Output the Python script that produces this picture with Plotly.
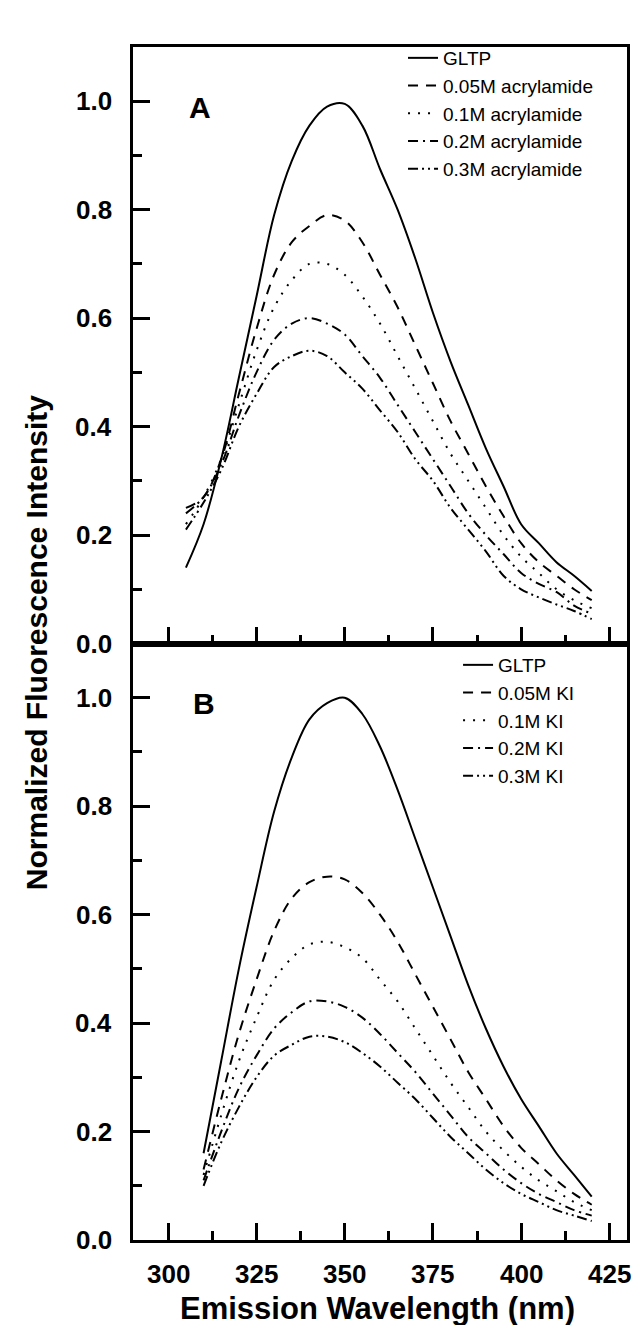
import plotly.graph_objects as go
from plotly.subplots import make_subplots

# ---------------- data ----------------
wl_a = [305, 310, 315, 320, 325, 330, 335, 340, 345, 350, 355, 360,
        365, 370, 375, 380, 385, 390, 395, 400, 405, 410, 415, 420]
gltp_a = [0.14, 0.22, 0.34, 0.49, 0.64, 0.79, 0.89, 0.955, 0.99, 0.995, 0.955, 0.875,
          0.80, 0.71, 0.61, 0.52, 0.44, 0.36, 0.29, 0.22, 0.185, 0.15, 0.125, 0.097]
acr_005 = [0.25, 0.27, 0.34, 0.46, 0.58, 0.68, 0.74, 0.77, 0.79, 0.78, 0.74, 0.68,
           0.62, 0.55, 0.48, 0.41, 0.35, 0.29, 0.235, 0.185, 0.15, 0.125, 0.10, 0.08]
acr_01 = [0.22, 0.27, 0.34, 0.44, 0.54, 0.62, 0.67, 0.70, 0.70, 0.68, 0.64, 0.59,
          0.53, 0.47, 0.41, 0.35, 0.30, 0.25, 0.20, 0.16, 0.13, 0.10, 0.08, 0.065]
acr_02 = [0.24, 0.27, 0.33, 0.42, 0.50, 0.56, 0.59, 0.60, 0.59, 0.57, 0.53, 0.49,
          0.44, 0.39, 0.34, 0.29, 0.24, 0.20, 0.165, 0.13, 0.11, 0.095, 0.07, 0.055]
acr_03 = [0.21, 0.26, 0.32, 0.40, 0.46, 0.51, 0.53, 0.54, 0.53, 0.50, 0.47, 0.43,
          0.39, 0.34, 0.30, 0.25, 0.21, 0.17, 0.125, 0.10, 0.085, 0.072, 0.06, 0.045]

wl_b = [310, 315, 320, 325, 330, 335, 340, 345, 350, 355, 360, 365,
        370, 375, 380, 385, 390, 395, 400, 405, 410, 415, 420]
gltp_b = [0.16, 0.33, 0.50, 0.65, 0.79, 0.89, 0.96, 0.99, 1.0, 0.97, 0.91, 0.83,
          0.74, 0.65, 0.56, 0.47, 0.39, 0.32, 0.26, 0.21, 0.16, 0.12, 0.08]
ki_005 = [0.13, 0.26, 0.38, 0.48, 0.57, 0.63, 0.66, 0.67, 0.665, 0.64, 0.60, 0.55,
          0.49, 0.43, 0.37, 0.31, 0.26, 0.21, 0.17, 0.14, 0.11, 0.085, 0.065]
ki_01 = [0.12, 0.23, 0.33, 0.41, 0.48, 0.52, 0.545, 0.55, 0.54, 0.52, 0.48, 0.44,
         0.39, 0.34, 0.29, 0.245, 0.20, 0.165, 0.135, 0.11, 0.09, 0.07, 0.055]
ki_02 = [0.11, 0.20, 0.28, 0.34, 0.39, 0.42, 0.44, 0.44, 0.43, 0.41, 0.38, 0.345,
         0.31, 0.27, 0.23, 0.19, 0.16, 0.13, 0.105, 0.085, 0.07, 0.055, 0.045]
ki_03 = [0.10, 0.18, 0.245, 0.30, 0.34, 0.36, 0.375, 0.375, 0.365, 0.345, 0.32, 0.29,
         0.26, 0.225, 0.19, 0.16, 0.13, 0.105, 0.085, 0.07, 0.055, 0.045, 0.035]

names_a = ["GLTP", "0.05M acrylamide", "0.1M acrylamide", "0.2M acrylamide", "0.3M acrylamide"]
names_b = ["GLTP", "0.05M KI", "0.1M KI", "0.2M KI", "0.3M KI"]

# tick labels
x_ticks = [300, 325, 350, 375, 400, 425]
y_ticks = [0.0, 0.2, 0.4, 0.6, 0.8, 1.0]

dashes = ["solid", "10px,8px", "2px,8px", "10px,5px,2px,5px", "10px,4px,2px,4px,2px,4px"]

FONT = "Liberation Sans"
X_RANGE = [290, 430]
Y_RANGE = [0, 1.1]

fig = make_subplots(rows=2, cols=1, shared_xaxes=True, vertical_spacing=0)

for name, y, d in zip(names_a, [gltp_a, acr_005, acr_01, acr_02, acr_03], dashes):
    fig.add_trace(go.Scatter(x=wl_a, y=y, mode="lines", name=name, legend="legend",
                             line=dict(color="black", width=2, dash=d, shape="spline")),
                  row=1, col=1)
for name, y, d in zip(names_b, [gltp_b, ki_005, ki_01, ki_02, ki_03], dashes):
    fig.add_trace(go.Scatter(x=wl_b, y=y, mode="lines", name=name, legend="legend2",
                             line=dict(color="black", width=2, dash=d, shape="spline")),
                  row=2, col=1)

# axes: frame + inside ticks (labels added as text below)
fig.update_xaxes(range=X_RANGE, tick0=x_ticks[0], dtick=25, ticks="inside", ticklen=17,
                 tickwidth=3, tickcolor="black", showline=True, linewidth=3, linecolor="black",
                 mirror=True, showgrid=False, zeroline=False, showticklabels=False,
                 minor=dict(ticks="inside", ticklen=9, tickwidth=3, tickcolor="black",
                            tick0=300, dtick=12.5, showgrid=False))
fig.update_yaxes(range=Y_RANGE, tick0=0, dtick=0.2, ticks="inside", ticklen=17,
                 tickwidth=3, tickcolor="black", showline=True, linewidth=3, linecolor="black",
                 mirror=True, showgrid=False, zeroline=False, showticklabels=False,
                 minor=dict(ticks="inside", ticklen=9, tickwidth=3, tickcolor="black",
                            tick0=0, dtick=0.1, showgrid=False))

# unused overlay axes (kept as in the working tick layout)
lab_common = dict(ticks="", showline=False, showgrid=False, zeroline=False,
                  showticklabels=False)
fig.update_layout(
    xaxis3=dict(overlaying="x2", anchor="y2", side="bottom", range=X_RANGE, **lab_common),
    yaxis3=dict(overlaying="y", anchor="x", side="left", range=Y_RANGE, **lab_common),
    yaxis4=dict(overlaying="y2", anchor="x2", side="left", range=Y_RANGE, **lab_common),
)

tickfont = dict(family=FONT, size=26, color="black", weight="bold")
annos = []
for v in x_ticks:
    annos.append(dict(text=str(v), x=v, xref="x2", y=-0.0285, yref="paper", showarrow=False,
                      xanchor="center", yanchor="middle", font=tickfont))
for yref in ["y", "y2"]:
    for v in y_ticks:
        annos.append(dict(text=f"{v:.1f}", x=-0.038, xref="paper", y=v, yref=yref,
                          showarrow=False, xanchor="right", yanchor="middle", font=tickfont))

annos += [
    dict(text="A", x=0.1356, y=0.9489, xref="paper", yref="paper", showarrow=False,
         xanchor="center", yanchor="middle",
         font=dict(family=FONT, size=30, color="black", weight="bold")),
    dict(text="B", x=0.1437, y=0.450, xref="paper", yref="paper", showarrow=False,
         xanchor="center", yanchor="middle",
         font=dict(family=FONT, size=30, color="black", weight="bold")),
    dict(text="Normalized Fluorescence Intensity", x=-0.196, y=0.5004, xref="paper",
         yref="paper", showarrow=False, textangle=-90, xanchor="center", yanchor="middle",
         font=dict(family=FONT, size=30, color="black", weight="bold")),
    dict(text="Emission Wavelength (nm)", x=0.495, y=-0.057, xref="paper", yref="paper",
         showarrow=False, xanchor="center", yanchor="middle",
         font=dict(family=FONT, size=31, color="black", weight="bold")),
]

legfont = dict(family=FONT, size=19, color="black")
fig.update_layout(
    width=640, height=1325,
    margin=dict(l=125, r=21, t=39, b=93),
    paper_bgcolor="white", plot_bgcolor="white",
    legend=dict(x=0.5466, y=1.0067, xanchor="left", yanchor="top", font=legfont,
                bgcolor="rgba(0,0,0,0)", tracegroupgap=0),
    legend2=dict(x=0.658, y=0.4979, xanchor="left", yanchor="top", font=legfont,
                 bgcolor="rgba(0,0,0,0)", tracegroupgap=0),
    annotations=annos,
)

fig.write_html("out.html")
